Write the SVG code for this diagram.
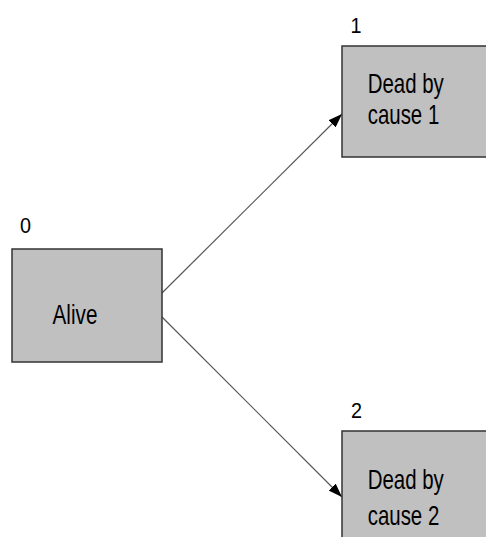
<svg xmlns="http://www.w3.org/2000/svg" width="486" height="537" viewBox="0 0 486 537">
<style>
.box{fill:#c0c0c0;stroke:#333;stroke-width:1.5}
.t{font-family:"Liberation Sans",Arial,sans-serif;fill:#000}
.edge{stroke:#555;stroke-width:1.2;fill:none;marker-end:url(#arr)}
</style>
<defs>
<marker id="arr" viewBox="0 0 14 10" refX="14" refY="5" markerWidth="14" markerHeight="10" markerUnits="userSpaceOnUse" orient="auto">
<path d="M0,0 L14,5 L0,10 Z" fill="#000"/>
</marker>
</defs>
<rect width="486" height="537" fill="#fff"/>
<g id="edges">
<line class="edge" x1="162" y1="293" x2="342" y2="114"/>
<line class="edge" x1="162" y1="317" x2="342" y2="497"/>
</g>
<g id="node0">
<rect class="box" x="12" y="249" width="150" height="113"/>
<text class="t" font-size="22" transform="translate(20,233) scale(0.9,1)">0</text>
<text class="t" font-size="28" transform="translate(52.5,324) scale(0.74,1)">Alive</text>
</g>
<g id="node1">
<rect class="box" x="342" y="46" width="150" height="111"/>
<text class="t" font-size="22" transform="translate(350.5,33) scale(0.9,1)">1</text>
<text class="t" font-size="28" transform="translate(367.7,93.3) scale(0.73,1)">Dead by</text>
<text class="t" font-size="28" transform="translate(367.7,124) scale(0.73,1)">cause 1</text>
</g>
<g id="node2">
<rect class="box" x="342" y="431" width="150" height="111"/>
<text class="t" font-size="22" transform="translate(351,418.3) scale(0.9,1)">2</text>
<text class="t" font-size="28" transform="translate(367.7,489.4) scale(0.73,1)">Dead by</text>
<text class="t" font-size="28" transform="translate(367.7,525) scale(0.73,1)">cause 2</text>
</g>
</svg>
